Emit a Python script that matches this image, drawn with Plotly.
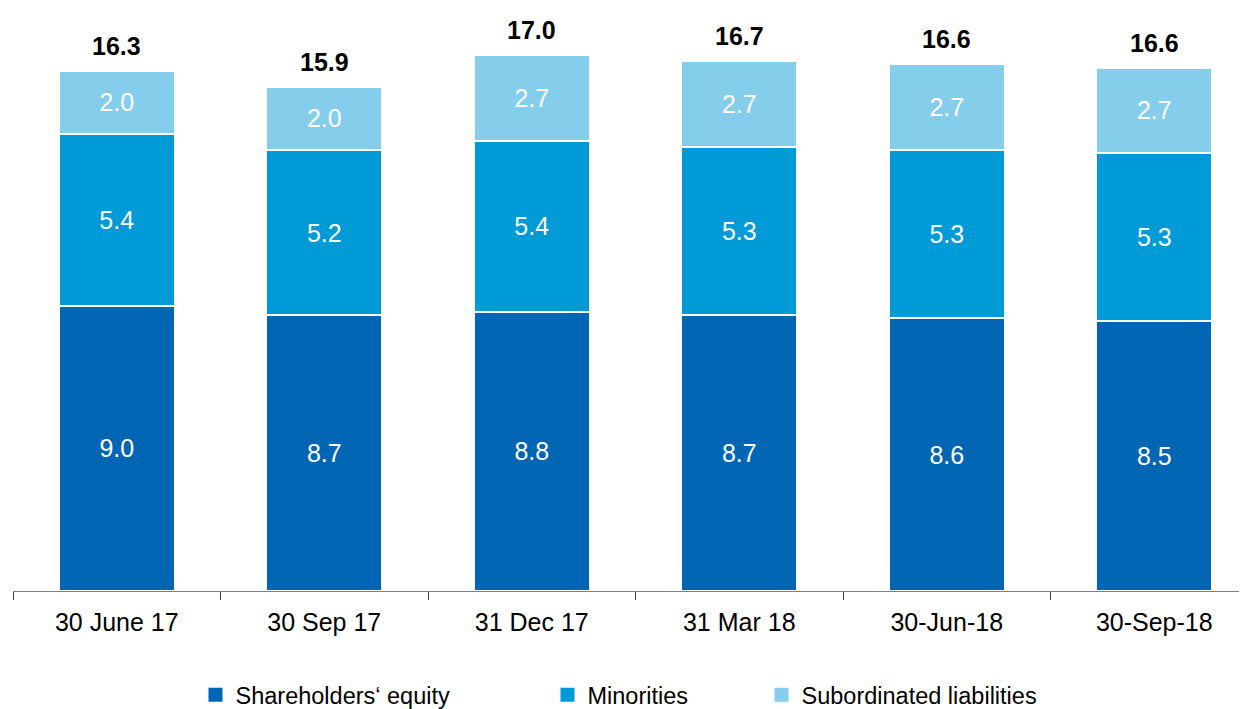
import plotly.graph_objects as go

categories = ["30 June 17", "30 Sep 17", "31 Dec 17", "31 Mar 18", "30-Jun-18", "30-Sep-18"]
shareholders_equity = [9.0, 8.7, 8.8, 8.7, 8.6, 8.5]
minorities = [5.4, 5.2, 5.4, 5.3, 5.3, 5.3]
subordinated = [2.0, 2.0, 2.7, 2.7, 2.7, 2.7]
totals = [16.3, 15.9, 17.0, 16.7, 16.6, 16.6]

series = [
    ("Shareholders‘ equity", shareholders_equity, "#0066B3", "legend"),
    ("Minorities", minorities, "#009AD6", "legend2"),
    ("Subordinated liabilities", subordinated, "#84CDEB", "legend3"),
]

FONT = "Liberation Sans, Arial, sans-serif"

fig = go.Figure()
for name, vals, color, lg in series:
    fig.add_trace(go.Bar(
        x=categories, y=vals, name=name,
        marker=dict(color=color, line=dict(color="white", width=2)),
        text=[f"{v:.1f}" for v in vals],
        textposition="inside", insidetextanchor="middle",
        textfont=dict(color="white", size=25, family=FONT),
        showlegend=False,
    ))
    # legend-only entry with a larger square swatch
    fig.add_trace(go.Scatter(
        x=[None], y=[None], mode="markers", name=name,
        marker=dict(symbol="square", size=14, color=color),
        legend=lg, showlegend=True, hoverinfo="skip",
    ))

stack_tops = [a + b + c for a, b, c in zip(shareholders_equity, minorities, subordinated)]
for cat, top, tot in zip(categories, stack_tops, totals):
    fig.add_annotation(x=cat, y=top, text=f"<b>{tot:.1f}</b>", showarrow=False,
                       yanchor="bottom", yshift=9,
                       font=dict(size=25, color="black", family=FONT))

legend_common = dict(orientation="h", yanchor="middle", xanchor="left",
                     font=dict(size=23.5, color="black", family=FONT),
                     bgcolor="rgba(0,0,0,0)", itemclick=False, itemdoubleclick=False)

PW = 1234.0
fig.update_layout(
    width=1247, height=709,
    margin=dict(l=5, r=8, t=12, b=126, autoexpand=False),
    barmode="stack", bargap=0.44,
    showlegend=True,
    plot_bgcolor="white", paper_bgcolor="white",
    font=dict(family=FONT, color="black"),
    xaxis=dict(range=[-0.5, 5.447], showline=True, linecolor="#7f7f7f", linewidth=1,
               ticks="outside", tickson="boundaries", ticklen=8, tickcolor="#404040",
               ticklabelstandoff=9, automargin=False,
               tickfont=dict(size=25, color="black", family=FONT), showgrid=False),
    yaxis=dict(range=[0, 18], visible=False, showgrid=False),
    legend=dict(x=(187.5 - 5) / PW, y=-0.182, **legend_common),
    legend2=dict(x=(539.5 - 5) / PW, y=-0.182, **legend_common),
    legend3=dict(x=(753.5 - 5) / PW, y=-0.182, **legend_common),
)

fig.write_html("out.html")
